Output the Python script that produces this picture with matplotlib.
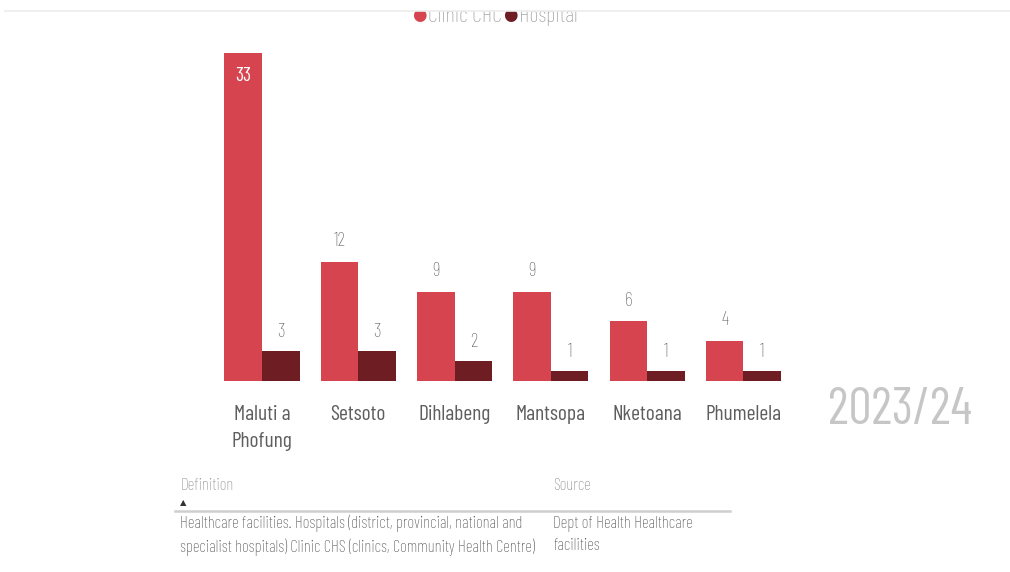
import numpy as np
import matplotlib.pyplot as plt
from matplotlib.lines import Line2D
from matplotlib.patches import Rectangle

# facility counts per local municipality
municipalities = ['Maluti a\nPhofung', 'Setsoto', 'Dihlabeng', 'Mantsopa', 'Nketoana', 'Phumelela']
clinic_chc = [33, 12, 9, 9, 6, 4]
hospital = [3, 3, 2, 1, 1, 1]

c_clinic = '#d6444f'
c_hosp = '#6e1d23'
grey = '#666666'
font = ['Barlow Condensed', 'DejaVu Sans']
sym = ['DejaVu Sans']

W, H = 1010, 572
fig = plt.figure(figsize=(W / 100, H / 100), dpi=100)
fig.patch.set_facecolor('white')

# axes in pixel terms: group centres at 262 + 96.3*i, baseline at y=381
x0 = 262 - 96.3 / 2
x1 = 262 + 96.3 * 5.5
ax = fig.add_axes([x0 / W, (H - 381) / H, (x1 - x0) / W, 348 / H])
ax.set_xlim(-0.5, 5.5)
ax.set_ylim(0, 35)
for s in ax.spines.values():
    s.set_visible(False)
ax.set_xticks([])
ax.set_yticks([])
ax.patch.set_alpha(0)

x = np.arange(len(municipalities))
bw = 0.39
ax.bar(x - bw / 2, clinic_chc, bw, color=c_clinic)
ax.bar(x + bw / 2, hospital, bw, color=c_hosp)

for xi, v in zip(x, clinic_chc):
    if v > 30:
        ax.annotate(str(v), (xi - bw / 2, v), xytext=(0, -17), textcoords='offset points',
                    ha='center', va='center', color='white', fontsize=14, family=font)
    else:
        ax.annotate(str(v), (xi - bw / 2, v), xytext=(0, 15), textcoords='offset points',
                    ha='center', va='center', color=grey, fontsize=14, family=font,
                    weight='light')
for xi, v in zip(x, hospital):
    ax.annotate(str(v), (xi + bw / 2, v), xytext=(0, 14), textcoords='offset points',
                ha='center', va='center', color=grey, fontsize=14, family=font,
                weight='light')

for xi, name in zip(x, municipalities):
    ax.annotate(name, (xi, 0), xytext=(0, -17), textcoords='offset points',
                ha='center', va='top', color='#5e5e5e', fontsize=15.5, family=font,
                linespacing=1.55)

# legend, its upper part hidden under the header strip
fig.text(419.5 / W, 1 - 15.5 / H, '\u25cf', color=c_clinic, fontsize=12, family=sym,
         ha='center', va='center')
fig.text(428 / W, 1 - 22 / H, 'Clinic CHC', color='#9a9a9a', fontsize=16, family=font,
         weight='light', va='baseline')
fig.text(510 / W, 1 - 15.5 / H, '\u25cf', color=c_hosp, fontsize=12, family=sym,
         ha='center', va='center')
fig.text(519 / W, 1 - 22 / H, 'Hospital', color='#9a9a9a', fontsize=16, family=font,
         weight='light', va='baseline')
fig.add_artist(Rectangle((0, 1 - 10.5 / H), 1, 10.5 / H, transform=fig.transFigure,
                         facecolor='white', edgecolor='none', zorder=5))
fig.add_artist(Line2D([5 / W, 1], [1 - 10.5 / H] * 2, color='#ececec', lw=1.2, zorder=6))

fig.text(900 / W, 1 - 410 / H, '2023/24', color='#c6c6c6', fontsize=37, family=font,
         ha='center', va='center')

# definition / source table
fig.text(180 / W, 1 - 486 / H, 'Definition', color='#8a8a8a', fontsize=12, family=font,
         weight='light', va='center')
fig.text(553 / W, 1 - 486 / H, 'Source', color='#8a8a8a', fontsize=12, family=font,
         weight='light', va='center')
fig.text(180 / W, 1 - 503 / H, '\u25b2', color='#333333', fontsize=6, family=sym, va='center')
fig.add_artist(Line2D([175 / W, 730 / W], [1 - 511 / H] * 2, color='#cfcfcf', lw=1.8))
fig.text(180 / W, 1 - 535.5 / H,
         'Healthcare facilities. Hospitals (district, provincial, national and\n'
         'specialist hospitals) Clinic CHS (clinics, Community Health Centre)',
         color='#4f4f4f', fontsize=12, family=font, weight='light', va='center',
         linespacing=1.5)
fig.text(553 / W, 1 - 535.5 / H, 'Dept of Health Healthcare\nfacilities',
         color='#4f4f4f', fontsize=12, family=font, weight='light', va='center',
         linespacing=1.5)

fig.savefig('out.png', dpi=100, facecolor='white')
